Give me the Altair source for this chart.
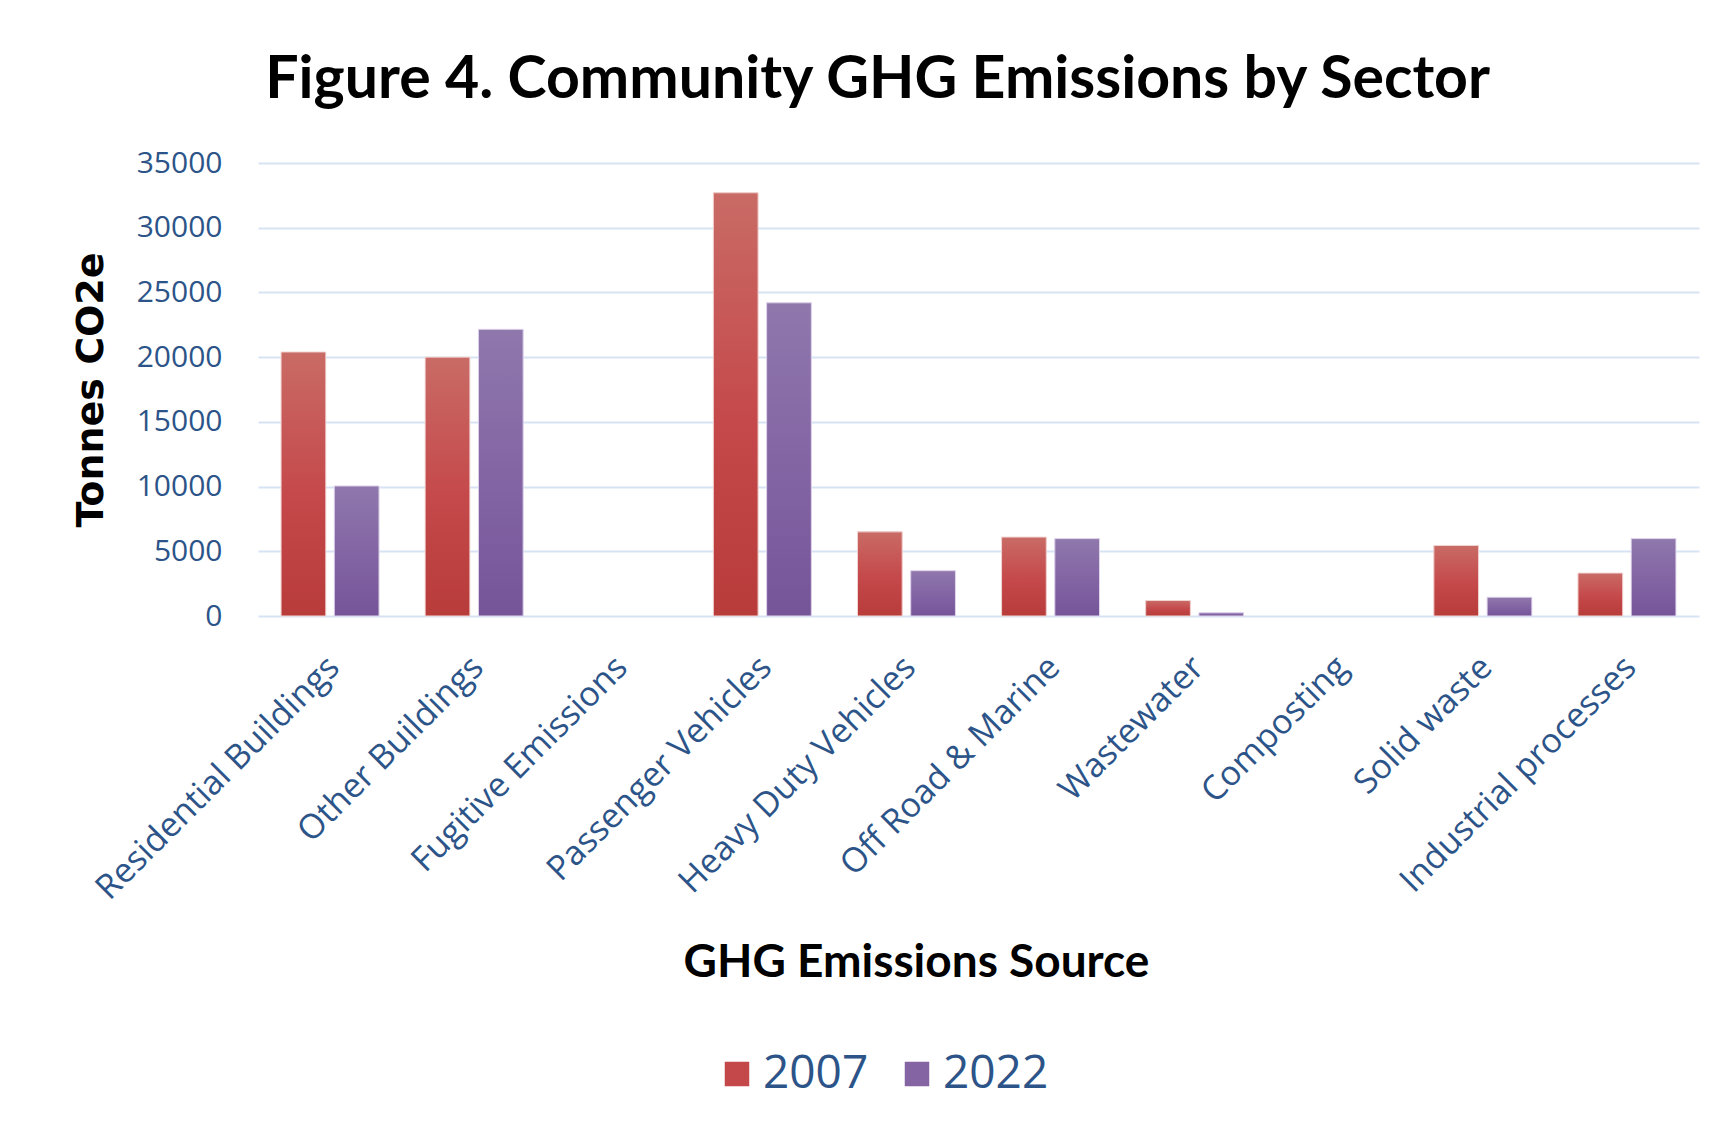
import altair as alt
import pandas as pd

sectors = ["Residential Buildings", "Other Buildings", "Fugitive Emissions",
           "Passenger Vehicles", "Heavy Duty Vehicles", "Off Road & Marine",
           "Wastewater", "Composting", "Solid waste", "Industrial processes"]
years = ["2007", "2022"]
values_2007 = [20400, 20000, 0, 32700, 6500, 6100, 1200, 0, 5450, 3320]
values_2022 = [10050, 22150, 0, 24200, 3500, 5980, 250, 0, 1450, 5980]
y_ticks = [0, 5000, 10000, 15000, 20000, 25000, 30000, 35000]

rows = []
for s, a, b in zip(sectors, values_2007, values_2022):
    rows.append({"sector": s, "year": "2007", "value": a})
    rows.append({"sector": s, "year": "2022", "value": b})
df = pd.DataFrame(rows)

LABEL_BLUE = "#2C5488"
TEXT_FONT = "Open Sans"

x_enc = alt.X("sector:N", sort=sectors,
              scale=alt.Scale(domain=sectors, paddingInner=0.32, paddingOuter=0.16),
              axis=alt.Axis(title="GHG Emissions Source", labelAngle=-45))
xo_enc = alt.XOffset("year:N", scale=alt.Scale(domain=years, paddingInner=0.16, paddingOuter=0))
y_enc = alt.Y("value:Q", scale=alt.Scale(domain=[0, 35000]),
              axis=alt.Axis(title="Tonnes CO2e", values=y_ticks, format="d"))

base = alt.Chart(df).transform_filter(alt.datum.value > 0)

solid = base.mark_bar().encode(
    x=x_enc, xOffset=xo_enc, y=y_enc,
    color=alt.Color("year:N",
                    scale=alt.Scale(domain=years, range=["#C4474A", "#8464A3"]),
                    legend=alt.Legend(title=None, orient="none", legendX=456, legendY=888,
                                      direction="horizontal", symbolType="square",
                                      symbolSize=600, symbolStrokeWidth=0,
                                      labelFontSize=46, labelColor=LABEL_BLUE,
                                      labelFont=TEXT_FONT, labelOffset=3, columnPadding=25)),
)

grad_2007 = {"gradient": "linear", "x1": 0, "y1": 0, "x2": 0, "y2": 1,
             "stops": [{"offset": 0, "color": "#C96B66"},
                       {"offset": 0.55, "color": "#C5484A"},
                       {"offset": 1, "color": "#B83C3A"}]}
grad_2022 = {"gradient": "linear", "x1": 0, "y1": 0, "x2": 0, "y2": 1,
             "stops": [{"offset": 0, "color": "#8F78AC"},
                       {"offset": 0.55, "color": "#8263A3"},
                       {"offset": 1, "color": "#755598"}]}

g07 = base.transform_filter(alt.datum.year == "2007").mark_bar(
    color=grad_2007, stroke="#F2D8D6", strokeWidth=1).encode(x=x_enc, xOffset=xo_enc, y=y_enc)
g22 = base.transform_filter(alt.datum.year == "2022").mark_bar(
    color=grad_2022, stroke="#E2D8EE", strokeWidth=1).encode(x=x_enc, xOffset=xo_enc, y=y_enc)

chart = alt.layer(solid, g07, g22).properties(
    width=1441, height=453,
    padding={"left": 64, "top": 43, "right": 5, "bottom": 5},
    title=alt.TitleParams("Figure 4. Community GHG Emissions by Sector",
                          font="Lato", fontSize=59, fontWeight="bold", color="black",
                          anchor="middle", frame="bounds", offset=38, dx=-8),
).configure_view(stroke=None).configure_axisY(
    titleFont="DejaVu Sans", titleFontSize=38, titleFontWeight="bold", titleColor="black",
    titlePadding=26, labelFont=TEXT_FONT, labelFontSize=30, labelColor=LABEL_BLUE,
    labelPadding=36, ticks=False, tickSize=0, domain=False,
    gridColor="#D7E3F4", gridWidth=2,
).configure_axisX(
    titleFont="Lato", titleFontSize=46, titleFontWeight="bold", titleColor="black",
    titleX=658, titleY=346, titleAlign="center", titleBaseline="middle",
    labelFont=TEXT_FONT, labelFontSize=34, labelColor=LABEL_BLUE, labelPadding=34,
    labelOffset=-8, labelLimit=0, ticks=False, tickSize=0, domain=False, grid=False,
)

chart.save("out.html", embed_options={"renderer": "svg", "actions": False})
